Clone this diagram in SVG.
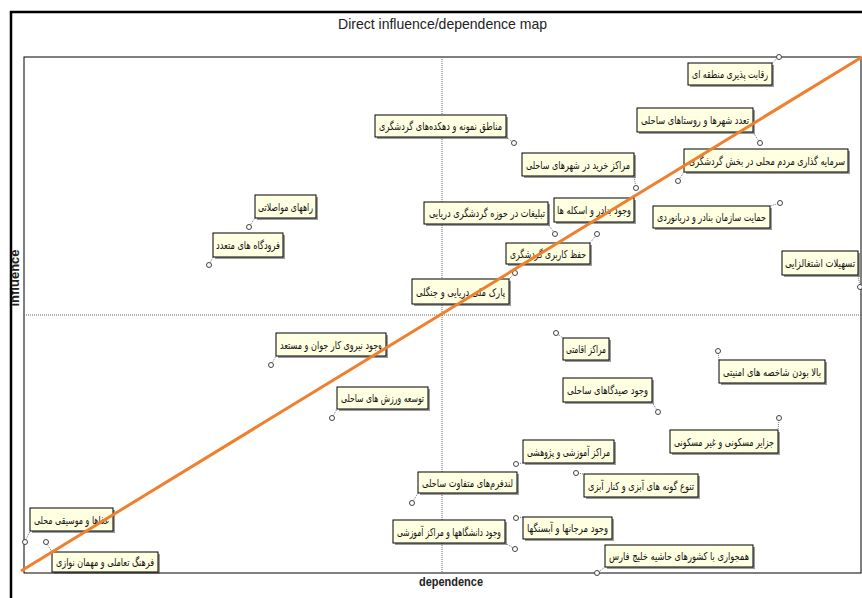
<svg xmlns="http://www.w3.org/2000/svg" width="862" height="598" viewBox="0 0 862 598">
<style>
.bx{fill:#FFFFE2;stroke:#000;stroke-width:1}
.sh{fill:#4a4a4a;opacity:.55}
.lb{font-family:"DejaVu Sans",sans-serif;font-size:11px;fill:#111;text-anchor:middle}
.le{text-anchor:end}
.ls{text-anchor:start}
.pt{fill:#fff;stroke:#444;stroke-width:1}
.cn{stroke:#777;stroke-width:1;stroke-dasharray:1 1;fill:none}
.ax{stroke:#666;stroke-width:1;stroke-dasharray:1 1;fill:none}
</style>
<rect width="862" height="598" fill="#fff"/>
<text x="338" y="29" font-family="Liberation Sans,Arial,sans-serif" font-size="15" fill="#222" textLength="209" lengthAdjust="spacingAndGlyphs">Direct influence/dependence map</text>
<rect x="24" y="57" width="837" height="516" fill="none" stroke="#000" stroke-width="1"/>
<line class="ax" x1="442" y1="57" x2="442" y2="573"/>
<line class="ax" x1="24" y1="315" x2="861" y2="315"/>
<text x="419" y="586" font-family="Liberation Sans,Arial,sans-serif" font-size="13" font-weight="bold" fill="#222" textLength="64" lengthAdjust="spacingAndGlyphs">dependence</text>
<text transform="translate(19,278) rotate(-90)" font-family="Liberation Sans,Arial,sans-serif" font-size="13" font-weight="bold" fill="#222" text-anchor="middle">influence</text>
<g id="connectors">
<line class="cn" x1="779" y1="57" x2="772" y2="63"/><circle class="pt" cx="779" cy="57" r="2.5"/>
<line class="cn" x1="760" y1="143" x2="753" y2="132"/><circle class="pt" cx="760" cy="143" r="2.5"/>
<line class="cn" x1="514" y1="143" x2="506" y2="137"/><circle class="pt" cx="514" cy="143" r="2.5"/>
<line class="cn" x1="678" y1="181" x2="684" y2="172"/><circle class="pt" cx="678" cy="181" r="2.5"/>
<line class="cn" x1="636" y1="188" x2="634" y2="176"/><circle class="pt" cx="636" cy="188" r="2.5"/>
<line class="cn" x1="249" y1="227" x2="255" y2="218"/><circle class="pt" cx="249" cy="227" r="2.5"/>
<line class="cn" x1="555" y1="234" x2="548" y2="224"/><circle class="pt" cx="555" cy="234" r="2.5"/>
<line class="cn" x1="780" y1="203" x2="770" y2="206"/><circle class="pt" cx="780" cy="203" r="2.5"/>
<line class="cn" x1="209" y1="265" x2="213" y2="257"/><circle class="pt" cx="209" cy="265" r="2.5"/>
<line class="cn" x1="597" y1="234" x2="590" y2="243"/><circle class="pt" cx="597" cy="234" r="2.5"/>
<line class="cn" x1="860" y1="287" x2="858" y2="275"/><circle class="pt" cx="860" cy="287" r="2.5"/>
<line class="cn" x1="515" y1="273" x2="509" y2="279"/><circle class="pt" cx="515" cy="273" r="2.5"/>
<line class="cn" x1="271" y1="365" x2="276" y2="356"/><circle class="pt" cx="271" cy="365" r="2.5"/>
<line class="cn" x1="556" y1="333" x2="563" y2="338"/><circle class="pt" cx="556" cy="333" r="2.5"/>
<line class="cn" x1="718" y1="351" x2="719" y2="360"/><circle class="pt" cx="718" cy="351" r="2.5"/>
<line class="cn" x1="658" y1="412" x2="652" y2="402"/><circle class="pt" cx="658" cy="412" r="2.5"/>
<line class="cn" x1="332" y1="418" x2="337" y2="409"/><circle class="pt" cx="332" cy="418" r="2.5"/>
<line class="cn" x1="779" y1="418" x2="778" y2="430"/><circle class="pt" cx="779" cy="418" r="2.5"/>
<line class="cn" x1="516" y1="464" x2="523" y2="463"/><circle class="pt" cx="516" cy="464" r="2.5"/>
<line class="cn" x1="576" y1="473" x2="584" y2="474"/><circle class="pt" cx="576" cy="473" r="2.5"/>
<line class="cn" x1="412" y1="503" x2="418" y2="493"/><circle class="pt" cx="412" cy="503" r="2.5"/>
<line class="cn" x1="25" y1="542" x2="30" y2="531"/><circle class="pt" cx="25" cy="542" r="2.5"/>
<line class="cn" x1="516" y1="518" x2="523" y2="517"/><circle class="pt" cx="516" cy="518" r="2.5"/>
<line class="cn" x1="515" y1="549" x2="505" y2="543"/><circle class="pt" cx="515" cy="549" r="2.5"/>
<line class="cn" x1="597" y1="573" x2="605" y2="567"/><circle class="pt" cx="597" cy="573" r="2.5"/>
<line class="cn" x1="46" y1="542" x2="52" y2="552"/><circle class="pt" cx="46" cy="542" r="2.5"/>
</g>
<g id="n1"><rect class="sh" x="690" y="65" width="84" height="22"/><rect class="bx" x="688" y="63" width="84" height="22"/><text class="lb" x="730" y="78" textLength="76" lengthAdjust="spacingAndGlyphs">رقابت پذیری منطقه ای</text></g>
<g id="n2"><rect class="sh" x="639" y="110" width="116" height="24"/><rect class="bx" x="637" y="108" width="116" height="24"/><text class="lb" x="695" y="124" textLength="108" lengthAdjust="spacingAndGlyphs">تعدد شهرها و روستاهای ساحلی</text></g>
<g id="n3"><rect class="sh" x="377" y="117" width="131" height="22"/><rect class="bx" x="375" y="115" width="131" height="22"/><text class="lb" x="440.5" y="130" textLength="123" lengthAdjust="spacingAndGlyphs">مناطق نمونه و دهکده‌های گردشگری</text></g>
<g id="n4"><rect class="sh" x="686" y="151" width="164" height="23"/><rect class="bx" x="684" y="149" width="164" height="23"/><text class="lb le" x="845" y="165" textLength="156" lengthAdjust="spacingAndGlyphs">سرمایه گذاری مردم محلی در بخش گردشگری</text></g>
<g id="n5"><rect class="sh" x="524" y="155" width="112" height="23"/><rect class="bx" x="522" y="153" width="112" height="23"/><text class="lb" x="578" y="169" textLength="104" lengthAdjust="spacingAndGlyphs">مراکز خرید در شهرهای ساحلی</text></g>
<g id="n6"><rect class="sh" x="257" y="197" width="61" height="23"/><rect class="bx" x="255" y="195" width="61" height="23"/><text class="lb" x="285.5" y="211" textLength="55" lengthAdjust="spacingAndGlyphs">راههای مواصلاتی</text></g>
<g id="n7"><rect class="sh" x="556" y="200" width="80" height="24"/><rect class="bx" x="554" y="198" width="80" height="24"/><text class="lb" x="594" y="214" textLength="74" lengthAdjust="spacingAndGlyphs">وجود بنادر و اسکله ها</text></g>
<g id="n8"><rect class="sh" x="426" y="204" width="124" height="22"/><rect class="bx" x="424" y="202" width="124" height="22"/><text class="lb le" x="545" y="217" textLength="116" lengthAdjust="spacingAndGlyphs">تبلیغات در حوزه گردشگری دریایی</text></g>
<g id="n9"><rect class="sh" x="655" y="208" width="117" height="22"/><rect class="bx" x="653" y="206" width="117" height="22"/><text class="lb" x="711.5" y="221" textLength="109" lengthAdjust="spacingAndGlyphs">حمایت سازمان بنادر و دریانوردی</text></g>
<g id="n10"><rect class="sh" x="215" y="235" width="70" height="24"/><rect class="bx" x="213" y="233" width="70" height="24"/><text class="lb" x="248" y="249" textLength="64" lengthAdjust="spacingAndGlyphs">فرودگاه های متعدد</text></g>
<g id="n11"><rect class="sh" x="508" y="245" width="84" height="21"/><rect class="bx" x="506" y="243" width="84" height="21"/><text class="lb" x="548" y="258" textLength="76" lengthAdjust="spacingAndGlyphs">حفظ کاربری گردشگری</text></g>
<g id="n12"><rect class="sh" x="784" y="253" width="76" height="24"/><rect class="bx" x="782" y="251" width="76" height="24"/><text class="lb le" x="855" y="267" textLength="70" lengthAdjust="spacingAndGlyphs">تسهیلات اشتغالزایی</text></g>
<g id="n13"><rect class="sh" x="414" y="281" width="97" height="25"/><rect class="bx" x="412" y="279" width="97" height="25"/><text class="lb" x="460.5" y="296" textLength="89" lengthAdjust="spacingAndGlyphs">پارک ملی دریایی و جنگلی</text></g>
<g id="n14"><rect class="sh" x="278" y="335" width="110" height="23"/><rect class="bx" x="276" y="333" width="110" height="23"/><text class="lb" x="331" y="349" textLength="102" lengthAdjust="spacingAndGlyphs">وجود نیروی کار جوان و مستعد</text></g>
<g id="n15"><rect class="sh" x="565" y="340" width="46" height="22"/><rect class="bx" x="563" y="338" width="46" height="22"/><text class="lb" x="586" y="353" textLength="40" lengthAdjust="spacingAndGlyphs">مراکز اقامتی</text></g>
<g id="n16"><rect class="sh" x="721" y="362" width="106" height="23"/><rect class="bx" x="719" y="360" width="106" height="23"/><text class="lb" x="772" y="376" textLength="98" lengthAdjust="spacingAndGlyphs">بالا بودن شاخصه های امنیتی</text></g>
<g id="n17"><rect class="sh" x="565" y="380" width="89" height="24"/><rect class="bx" x="563" y="378" width="89" height="24"/><text class="lb" x="607.5" y="394" textLength="81" lengthAdjust="spacingAndGlyphs">وجود صیدگاهای ساحلی</text></g>
<g id="n18"><rect class="sh" x="339" y="389" width="91" height="22"/><rect class="bx" x="337" y="387" width="91" height="22"/><text class="lb" x="382.5" y="402" textLength="83" lengthAdjust="spacingAndGlyphs">توسعه ورزش های ساحلی</text></g>
<g id="n19"><rect class="sh" x="672" y="432" width="108" height="23"/><rect class="bx" x="670" y="430" width="108" height="23"/><text class="lb" x="724" y="446" textLength="100" lengthAdjust="spacingAndGlyphs">جزایر مسکونی و غیر مسکونی</text></g>
<g id="n20"><rect class="sh" x="525" y="442" width="91" height="23"/><rect class="bx" x="523" y="440" width="91" height="23"/><text class="lb" x="568.5" y="456" textLength="83" lengthAdjust="spacingAndGlyphs">مراکز آموزشی و پژوهشی</text></g>
<g id="n21"><rect class="sh" x="586" y="476" width="114" height="23"/><rect class="bx" x="584" y="474" width="114" height="23"/><text class="lb" x="641" y="490" textLength="106" lengthAdjust="spacingAndGlyphs">تنوع گونه های آبزی و کنار آبزی</text></g>
<g id="n22"><rect class="sh" x="420" y="474" width="99" height="21"/><rect class="bx" x="418" y="472" width="99" height="21"/><text class="lb" x="467.5" y="487" textLength="91" lengthAdjust="spacingAndGlyphs">لندفرم‌های متفاوت ساحلی</text></g>
<g id="n23"><rect class="sh" x="32" y="510" width="83" height="23"/><rect class="bx" x="30" y="508" width="83" height="23"/><text class="lb" x="71.5" y="524" textLength="75" lengthAdjust="spacingAndGlyphs">غذاها و موسیقی محلی</text></g>
<g id="n24"><rect class="sh" x="525" y="519" width="89" height="22"/><rect class="bx" x="523" y="517" width="89" height="22"/><text class="lb ls" x="527" y="532" textLength="81" lengthAdjust="spacingAndGlyphs">وجود مرجانها و آبسنگها</text></g>
<g id="n25"><rect class="sh" x="395" y="522" width="112" height="23"/><rect class="bx" x="393" y="520" width="112" height="23"/><text class="lb le" x="501" y="536" textLength="104" lengthAdjust="spacingAndGlyphs">وجود دانشگاهها و مراکز آموزشی</text></g>
<g id="n26"><rect class="sh" x="607" y="547" width="148" height="22"/><rect class="bx" x="605" y="545" width="148" height="22"/><text class="lb" x="679" y="560" textLength="140" lengthAdjust="spacingAndGlyphs">همجواری با کشورهای حاشیه خلیج فارس</text></g>
<g id="n27"><rect class="sh" x="54" y="554" width="106" height="20"/><rect class="bx" x="52" y="552" width="106" height="20"/><text class="lb" x="105" y="566" textLength="98" lengthAdjust="spacingAndGlyphs">فرهنگ تعاملی و مهمان نوازی</text></g>
<line x1="21" y1="571" x2="862" y2="57" stroke="#EE8030" stroke-width="3"/>
<path d="M11 598 V12 H862" fill="none" stroke="#000" stroke-width="2.5"/>
</svg>
